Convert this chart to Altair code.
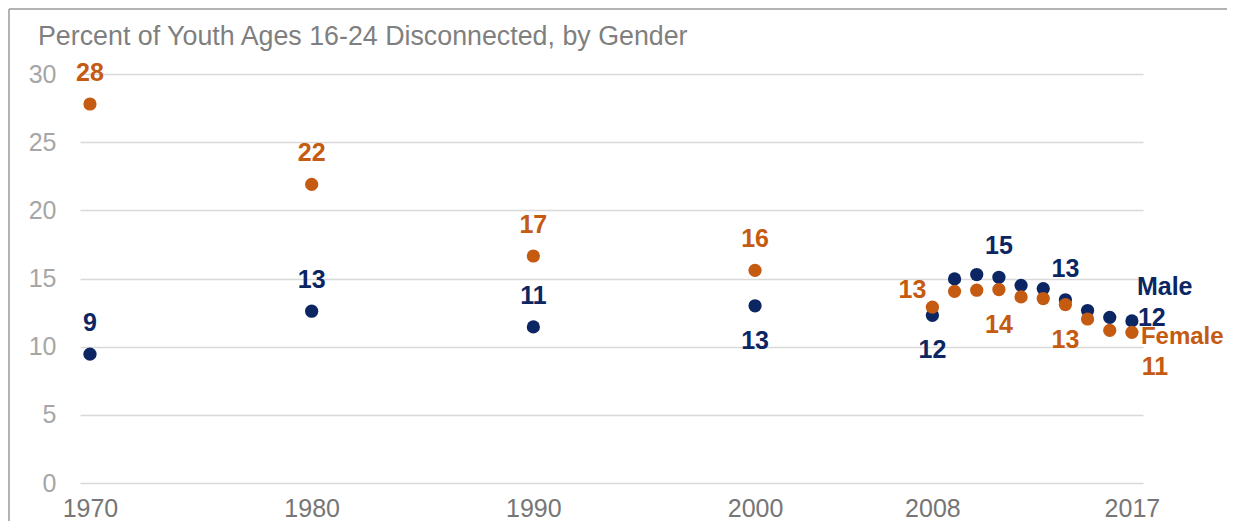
import altair as alt
import pandas as pd

# ---------------- data ----------------
years = [1970, 1980, 1990, 2000, 2008, 2009, 2010, 2011, 2012, 2013, 2014, 2015, 2016, 2017]
male = [9.45, 12.6, 11.45, 13.0, 12.3, 14.97, 15.29, 15.09, 14.5, 14.26, 13.44, 12.65, 12.15, 11.89]
female = [27.8, 21.9, 16.65, 15.6, 12.9, 14.06, 14.14, 14.19, 13.65, 13.53, 13.09, 12.03, 11.2, 11.05]
series_names = ["Male", "Female"]
x_tick_years = [1970, 1980, 1990, 2000, 2008, 2017]
y_ticks = [0, 5, 10, 15, 20, 25, 30]
title_text = "Percent of Youth Ages 16-24 Disconnected, by Gender"

# which points carry a value label, and where it sits
male_labels = [(1970, "above"), (1980, "above"), (1990, "above"), (2000, "below"),
               (2008, "below"), (2011, "above"), (2014, "above"), (2017, "right")]
female_labels = [(1970, "above"), (1980, "above"), (1990, "above"), (2000, "above"),
                 (2008, "left"), (2011, "below"), (2014, "below"), (2017, "belowright")]

NAVY = "#0C2663"
ORANGE = "#C55A11"
FONT = "Liberation Sans"

# ---------------- tables ----------------
rows = []
for name, vals in (("Male", male), ("Female", female)):
    for y, v in zip(years, vals):
        rows.append({"year": y, "value": v, "series": name})
df = pd.DataFrame(rows)

lab_rows = []
for name, vals, labs in (("Male", male, male_labels), ("Female", female, female_labels)):
    lookup = dict(zip(years, vals))
    for y, pos in labs:
        lab_rows.append({"year": y, "value": lookup[y], "series": name, "pos": pos})
    lab_rows.append({"year": years[-1], "value": vals[-1], "series": name, "pos": "name" + name})
labels = pd.DataFrame(lab_rows)
labels["text"] = labels["series"]

W, H = 1063, 409
LAB = 25

color = alt.Color("series:N", scale=alt.Scale(domain=series_names, range=[NAVY, ORANGE]), legend=None)
X = alt.X("year:Q",
          scale=alt.Scale(domain=[1969.55, 2017.5], nice=False, zero=False),
          axis=alt.Axis(values=x_tick_years, format="d", grid=False, domain=False, ticks=False,
                        labelFontSize=25, labelColor="#767676", labelFont=FONT,
                        labelPadding=13, labelFlush=False, title=None))
Y = alt.Y("value:Q",
          scale=alt.Scale(domain=[0, 30], nice=False),
          axis=alt.Axis(values=y_ticks, grid=True, gridColor="#D9D9D9", gridWidth=1.5,
                        domain=False, ticks=False, labelFontSize=25, labelColor="#A6A6A6",
                        labelFont=FONT, labelPadding=24, labelFlush=False, title=None))

points = alt.Chart(df).mark_circle(size=175, opacity=1).encode(x=X, y=Y, color=color)

placements = {
    "above": dict(dx=0, dy=-31, align="center"),
    "below": dict(dx=0, dy=35, align="center"),
    "left": dict(dx=-20, dy=-17, align="center"),
    "right": dict(dx=6, dy=-3, align="left"),
    "belowright": dict(dx=23, dy=35, align="center"),
}

layers = [points]
for pos, opts in placements.items():
    layers.append(
        alt.Chart(labels).transform_filter(alt.datum.pos == pos)
        .mark_text(fontSize=LAB, fontWeight="bold", font=FONT, baseline="middle", **opts)
        .encode(x=X, y=Y, color=color, text=alt.Text("value:Q", format=".0f"))
    )
name_opts = {"nameMale": dict(dx=5, dy=-34, fontSize=25), "nameFemale": dict(dx=9, dy=5, fontSize=24)}
for pos, opts in name_opts.items():
    layers.append(
        alt.Chart(labels).transform_filter(alt.datum.pos == pos)
        .mark_text(fontWeight="bold", font=FONT, baseline="middle", align="left", **opts)
        .encode(x=X, y=Y, color=color, text="text:N")
    )

title_mark = alt.Chart(pd.DataFrame({"t": [title_text]})).mark_text(
    fontSize=26.8, font=FONT, color="#7F7F7F", align="left", baseline="alphabetic"
).encode(x=alt.value(-42), y=alt.value(-29), text="t:N")

frame_df = pd.DataFrame({"k": [0]})
frame_left = alt.Chart(frame_df).mark_rule(color="#9A9A9A", strokeWidth=1.5).encode(
    x=alt.value(-71), y=alt.value(-65), y2=alt.value(H + 45))
frame_top = alt.Chart(frame_df).mark_rule(color="#9A9A9A", strokeWidth=1.5).encode(
    x=alt.value(-71), x2=alt.value(W + 84), y=alt.value(-65))

chart = alt.layer(frame_left, frame_top, title_mark, *layers).properties(
    width=W, height=H,
    autosize=alt.AutoSizeParams(type="none"),
    padding={"left": 72, "top": 66, "right": 84, "bottom": 38},
).configure_view(stroke=None)

chart.save("out.html", embed_options={"renderer": "svg", "actions": False})
